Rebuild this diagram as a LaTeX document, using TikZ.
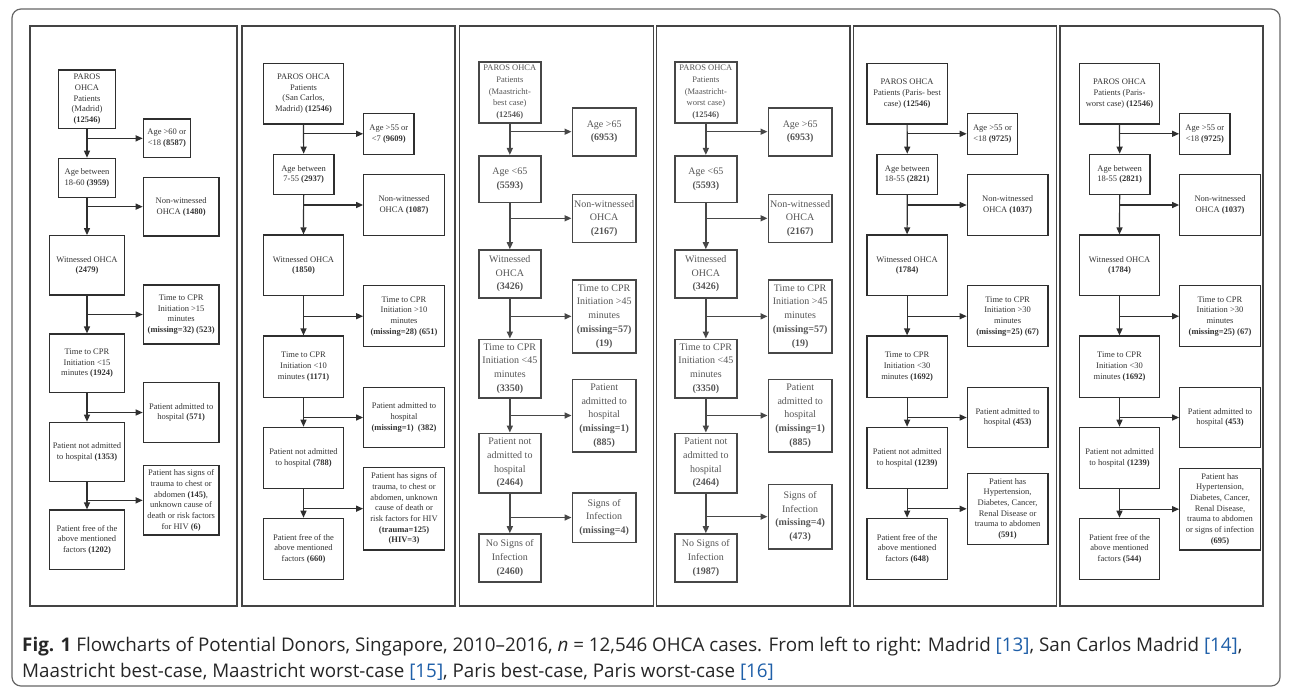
\documentclass[tikz,border=0pt]{standalone}
\usepackage{fontspec}
\setmainfont{Liberation Serif}
\newfontfamily\capfont{Open Sans}
\usetikzlibrary{arrows.meta}
\definecolor{ln}{HTML}{2F2F2F}
\definecolor{tx}{HTML}{333333}
\definecolor{tx2}{HTML}{555555}
\definecolor{lnk}{HTML}{1F5FA8}
\definecolor{frm}{HTML}{444444}
\newcommand\bx[7][]{%
  \pgfmathsetmacro\bw{#5-#3}\pgfmathsetmacro\bh{#6-#4}%
  \pgfmathsetmacro\bcx{(#3+#5)/2}\pgfmathsetmacro\bcy{(#4+#6)/2}%
  \node[box,#1,minimum width=\bw pt,minimum height=\bh pt] (#2) at (\bcx,\bcy) {#7};}
\tikzset{
  box/.style={draw=ln, line width=1.2pt, inner sep=1pt, align=center, text=tx,
    font=\fontsize{8.5}{10.7}\selectfont},
  boxm/.style={draw=black!72, line width=1.6pt, text=tx2, font=\fontsize{10}{13.7}\selectfont},
  boxs/.style={draw=black!72, line width=1.6pt, text=tx2, font=\fontsize{8.5}{11.7}\selectfont},
  arr/.style={draw=ln, line width=1.2pt, -{Triangle[length=7pt,width=6pt]}},
  arrm/.style={draw=black!72, line width=1.5pt, -{Triangle[length=7pt,width=6pt]}},
  panel/.style={draw=frm, line width=1.4pt},
  captxt/.style={anchor=base west, inner sep=0, text=black!85, font=\capfont\fontsize{18.8}{22}\selectfont},
}
\begin{document}
\begin{tikzpicture}[x=1pt,y=-1pt]
\useasboundingbox (0,0) rectangle (1292,689);
\draw[draw=black!60, line width=1.2pt, rounded corners=9pt] (12,9) rectangle (1280,686);
% panel frames
\draw[panel] (30,26) rectangle (237,606);
\draw[panel] (242,26) rectangle (455,606);
\draw[panel] (459.7,26) rectangle (653.5,606);
\draw[panel] (656.3,26) rectangle (850,606);
\draw[panel] (853.7,26) rectangle (1056.7,606);
\draw[panel] (1060,26) rectangle (1263,606);

% ---------- Panel 1 ----------
\bx{pa}{58.7}{70}{115.3}{128.3}{PAROS\\OHCA\\Patients\\(Madrid)\\\textbf{(12546)}}
\bx{pas1}{143.3}{119}{190.3}{157.7}{Age >60 or\\<18 \textbf{(8587)}}
\bx{pb}{58.7}{158.3}{115.3}{197.3}{Age between\\18-60 \textbf{(3959)}}
\bx{pas2}{143.3}{177.3}{219}{236}{Non-witnessed\\OHCA \textbf{(1480)}}
\bx{pc}{49.3}{235.7}{124.7}{295}{Witnessed OHCA\\\textbf{(2479)}}
\bx{pas3}{143.3}{285}{219}{344}{Time to CPR\\Initiation >15\\minutes\\\textbf{(missing=32) (523)}}
\bx{pd}{49.3}{334}{124.7}{392.7}{Time to CPR\\Initiation <15\\minutes \textbf{(1924)}}
\bx{pas4}{143.3}{382.7}{219}{442.3}{Patient admitted to\\hospital \textbf{(571)}}
\bx{pe}{49.3}{422.3}{124.7}{481.3}{Patient not admitted\\to hospital \textbf{(1353)}}
\bx{pas5}{143.3}{465.7}{219}{535}{Patient has signs of\\trauma to chest or\\abdomen \textbf{(145)},\\unknown cause of\\death or risk factors\\for HIV \textbf{(6)}}
\bx{pf}{49.3}{510}{124.7}{569.3}{Patient free of the\\above mentioned\\factors \textbf{(1202)}}
\foreach \u/\v/\s in {pa/pb/pas1,pb/pc/pas2,pc/pd/pas3,pd/pe/pas4,pe/pf/pas5}{
  \draw[arr] (\u.south) -- (\v.north);
  \draw[arr] (\u.south |- \s.west) -- (\s.west);
}

% ---------- Panel 2 ----------
\bx{qa}{263.3}{63.3}{343.7}{124}{PAROS OHCA\\Patients\\(San Carlos,\\Madrid) \textbf{(12546)}}
\bx{qas1}{363.7}{113.3}{414}{154.3}{Age >55 or\\<7 \textbf{(9609)}}
\bx{qb}{273.3}{154.3}{334}{194.3}{Age between\\7-55 \textbf{(2937)}}
\bx{qas2}{363.7}{174.3}{444.3}{235.7}{Non-witnessed\\OHCA \textbf{(1087)}}
\bx{qc}{263.3}{235}{343.7}{295.7}{Witnessed OHCA\\\textbf{(1850)}}
\bx{qas3}{363.7}{285.7}{444.3}{346.7}{Time to CPR\\Initiation >10\\minutes\\\textbf{(missing=28) (651)}}
\bx{qd}{263.3}{336}{343.7}{397.3}{Time to CPR\\Initiation <10\\minutes \textbf{(1171)}}
\bx{qas4}{363.7}{387.3}{444.3}{447.7}{Patient admitted to\\hospital\\\textbf{(missing=1)\ \ (382)}}
\bx{qe}{263.3}{427.3}{343.7}{488.3}{Patient not admitted\\to hospital \textbf{(788)}}
\bx{qas5}{363.7}{467.3}{444.3}{550}{Patient has signs of\\trauma, to chest or\\abdomen, unknown\\cause of death or\\risk factors for HIV\\\textbf{(trauma=125)}\\\textbf{(HIV=3)}}
\bx{qf}{263.3}{518.3}{343.7}{579.3}{Patient free of the\\above mentioned\\factors \textbf{(660)}}
\foreach \u/\v/\s in {qa/qb/qas1,qb/qc/qas2,qc/qd/qas3,qd/qe/qas4,qe/qf/qas5}{
  \draw[arr] (\u.south) -- (\v.north);
  \draw[arr] (\u.south |- \s.west) -- (\s.west);
}

% ---------- Panel 3 ----------
\bx[boxs]{ra}{478.7}{61.7}{541}{122.7}{PAROS OHCA\\Patients\\(Maastricht-\\best case)\\\textbf{(12546)}}
\bx[boxm]{ras1}{572.3}{107.7}{636}{155.7}{Age >65\\\textbf{(6953)}}
\bx[boxm]{rb}{478.7}{155.7}{541}{202.3}{Age <65\\\textbf{(5593)}}
\bx[boxm]{ras2}{572.3}{194.3}{636}{242.3}{Non-witnessed\\OHCA\\\textbf{(2167)}}
\bx[boxm]{rc}{478.7}{250}{541}{297.7}{Witnessed\\OHCA\\\textbf{(3426)}}
\bx[boxm]{ras3}{572.3}{280}{636}{352.7}{Time to CPR\\Initiation >45\\minutes\\\textbf{(missing=57)}\\\textbf{(19)}}
\bx[boxm]{rd}{478.7}{339.3}{541}{397.7}{Time to CPR\\Initiation <45\\minutes\\\textbf{(3350)}}
\bx[boxm]{ras4}{572.3}{379.3}{636}{451.7}{Patient\\admitted to\\hospital\\\textbf{(missing=1)}\\\textbf{(885)}}
\bx[boxm]{re}{478.7}{433.3}{541}{492.7}{Patient not\\admitted to\\hospital\\\textbf{(2464)}}
\bx[boxm]{ras5}{572.3}{492.7}{636}{542.3}{Signs of\\Infection\\\textbf{(missing=4)}}
\bx[boxm]{rf}{478.7}{534}{541}{581.7}{No Signs of\\Infection\\\textbf{(2460)}}
\foreach \u/\v/\s in {ra/rb/ras1,rb/rc/ras2,rc/rd/ras3,rd/re/ras4,re/rf/ras5}{
  \draw[arrm] (\u.south) -- (\v.north);
  \draw[arrm] (\u.south |- \s.west) -- (\s.west);
}

% ---------- Panel 4 ----------
\begin{scope}[xshift=196pt]
\bx[boxs]{sa}{478.7}{61.7}{541}{122.7}{PAROS OHCA\\Patients\\(Maastricht-\\worst case)\\\textbf{(12546)}}
\bx[boxm]{sas1}{572.3}{107.7}{636}{155.7}{Age >65\\\textbf{(6953)}}
\bx[boxm]{sb}{478.7}{155.7}{541}{202.3}{Age <65\\\textbf{(5593)}}
\bx[boxm]{sas2}{572.3}{194.3}{636}{242.3}{Non-witnessed\\OHCA\\\textbf{(2167)}}
\bx[boxm]{sc}{478.7}{250}{541}{297.7}{Witnessed\\OHCA\\\textbf{(3426)}}
\bx[boxm]{sas3}{572.3}{280}{636}{352.7}{Time to CPR\\Initiation >45\\minutes\\\textbf{(missing=57)}\\\textbf{(19)}}
\bx[boxm]{sd}{478.7}{339.3}{541}{397.7}{Time to CPR\\Initiation <45\\minutes\\\textbf{(3350)}}
\bx[boxm]{sas4}{572.3}{379.3}{636}{451.7}{Patient\\admitted to\\hospital\\\textbf{(missing=1)}\\\textbf{(885)}}
\bx[boxm]{se}{478.7}{433.3}{541}{492.7}{Patient not\\admitted to\\hospital\\\textbf{(2464)}}
\bx[boxm]{sas5}{572.3}{484.3}{636}{549}{Signs of\\Infection\\\textbf{(missing=4)}\\\textbf{(473)}}
\bx[boxm]{sf}{478.7}{534}{541}{581.7}{No Signs of\\Infection\\\textbf{(1987)}}
\foreach \u/\v/\s in {sa/sb/sas1,sb/sc/sas2,sc/sd/sas3,sd/se/sas4,se/sf/sas5}{
  \draw[arrm] (\u.south) -- (\v.north);
  \draw[arrm] (\u.south |- \s.west) -- (\s.west);
}
\end{scope}

% ---------- Panel 5 ----------
\begin{scope}[xshift=603.6pt]
\bx{ta}{263.3}{63.3}{343.7}{124}{PAROS OHCA\\Patients (Paris- best\\case) \textbf{(12546)}}
\bx{tas1}{363.7}{113.3}{414}{154.3}{Age >55 or\\<18 \textbf{(9725)}}
\bx{tb}{273.3}{154.3}{334}{194.3}{Age between\\18-55 \textbf{(2821)}}
\bx{tas2}{363.7}{174.3}{444.3}{235.7}{Non-witnessed\\OHCA \textbf{(1037)}}
\bx{tc}{263.3}{235}{343.7}{295.7}{Witnessed OHCA\\\textbf{(1784)}}
\bx{tas3}{363.7}{285.7}{444.3}{346.7}{Time to CPR\\Initiation >30\\minutes\\\textbf{(missing=25) (67)}}
\bx{td}{263.3}{336}{343.7}{397.3}{Time to CPR\\Initiation <30\\minutes \textbf{(1692)}}
\bx{tas4}{363.7}{387.3}{444.3}{447.7}{Patient admitted to\\hospital \textbf{(453)}}
\bx{te}{263.3}{427.3}{343.7}{488.3}{Patient not admitted\\to hospital \textbf{(1239)}}
\bx{tas5}{363.7}{473.3}{444.3}{544.3}{Patient has\\Hypertension,\\Diabetes, Cancer,\\Renal Disease or\\trauma to abdomen\\\textbf{(591)}}
\bx{tf}{263.3}{518.3}{343.7}{579.3}{Patient free of the\\above mentioned\\factors \textbf{(648)}}
\foreach \u/\v/\s in {ta/tb/tas1,tb/tc/tas2,tc/td/tas3,td/te/tas4,te/tf/tas5}{
  \draw[arr] (\u.south) -- (\v.north);
  \draw[arr] (\u.south |- \s.west) -- (\s.west);
}
\end{scope}

% ---------- Panel 6 ----------
\begin{scope}[xshift=816pt]
\bx{ua}{263.3}{63.3}{343.7}{124}{PAROS OHCA\\Patients (Paris-\\worst case) \textbf{(12546)}}
\bx{uas1}{363.7}{113.3}{414}{154.3}{Age >55 or\\<18 \textbf{(9725)}}
\bx{ub}{273.3}{154.3}{334}{194.3}{Age between\\18-55 \textbf{(2821)}}
\bx{uas2}{363.7}{174.3}{444.3}{235.7}{Non-witnessed\\OHCA \textbf{(1037)}}
\bx{uc}{263.3}{235}{343.7}{295.7}{Witnessed OHCA\\\textbf{(1784)}}
\bx{uas3}{363.7}{285.7}{444.3}{346.7}{Time to CPR\\Initiation >30\\minutes\\\textbf{(missing=25) (67)}}
\bx{ud}{263.3}{336}{343.7}{397.3}{Time to CPR\\Initiation <30\\minutes \textbf{(1692)}}
\bx{uas4}{363.7}{387.3}{444.3}{447.7}{Patient admitted to\\hospital \textbf{(453)}}
\bx{ue}{263.3}{427.3}{343.7}{488.3}{Patient not admitted\\to hospital \textbf{(1239)}}
\bx{uas5}{363.7}{468.3}{444.3}{550}{Patient has\\Hypertension,\\Diabetes, Cancer,\\Renal Disease,\\trauma to abdomen\\or signs of infection\\\textbf{(695)}}
\bx{uf}{263.3}{518.3}{343.7}{579.3}{Patient free of the\\above mentioned\\factors \textbf{(544)}}
\foreach \u/\v/\s in {ua/ub/uas1,ub/uc/uas2,uc/ud/uas3,ud/ue/uas4,ue/uf/uas5}{
  \draw[arr] (\u.south) -- (\v.north);
  \draw[arr] (\u.south |- \s.west) -- (\s.west);
}
\end{scope}

% ---------- Caption ----------
\node[captxt] (cap1) at (22,651)
  {\textbf{Fig. 1} Flowcharts of Potential Donors, Singapore, 2010–2016, \textit{n} = 12,546 OHCA cases. From left to right: Madrid \textcolor{lnk}{[13]}, San Carlos Madrid \textcolor{lnk}{[14]},};
\node[captxt] (cap2) at (22,677)
  {Maastricht best-case, Maastricht worst-case \textcolor{lnk}{[15]}, Paris best-case, Paris worst-case \textcolor{lnk}{[16]}};
\end{tikzpicture}
\end{document}
